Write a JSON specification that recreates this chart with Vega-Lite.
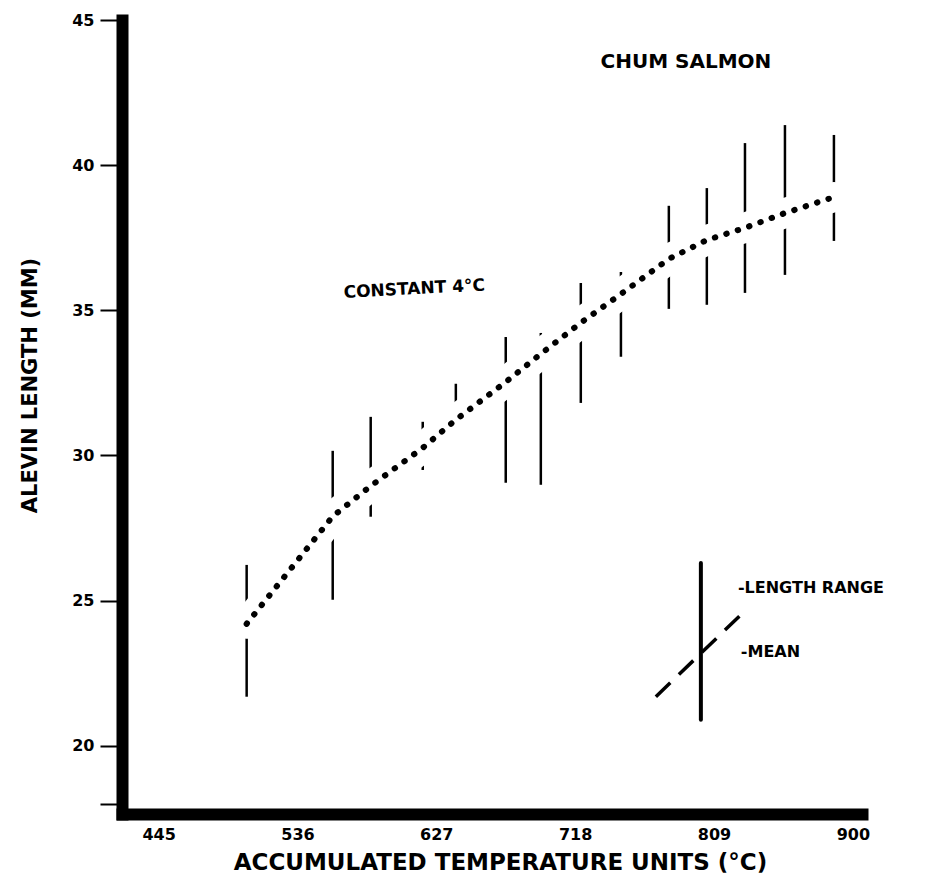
{
  "$schema": "https://vega.github.io/schema/vega-lite/v6.json",
  "width": 740,
  "height": 794,
  "autosize": {"type": "none"},
  "padding": {"left": 122, "top": 20, "right": 90, "bottom": 71},
  "background": "white",
  "config": {"view": {"stroke": null}, "font": "DejaVu Sans"},
  "datasets": {
    "obs": [
      {"atu": 502.7, "mean": 24.2, "lo": 21.69, "hi": 26.23},
      {"atu": 559.1, "mean": 27.9, "lo": 25.03, "hi": 30.16},
      {"atu": 584.0, "mean": 28.95, "lo": 27.89, "hi": 31.33},
      {"atu": 618.1, "mean": 30.26, "lo": 29.5, "hi": 31.16},
      {"atu": 639.8, "mean": 31.23, "lo": 31.0, "hi": 32.47},
      {"atu": 672.5, "mean": 32.53, "lo": 29.06, "hi": 34.08},
      {"atu": 695.5, "mean": 33.5, "lo": 28.99, "hi": 34.22},
      {"atu": 721.7, "mean": 34.57, "lo": 31.81, "hi": 35.94},
      {"atu": 748.0, "mean": 35.56, "lo": 33.4, "hi": 36.32},
      {"atu": 779.4, "mean": 36.77, "lo": 35.05, "hi": 38.6},
      {"atu": 804.3, "mean": 37.42, "lo": 35.19, "hi": 39.21},
      {"atu": 829.3, "mean": 37.84, "lo": 35.6, "hi": 40.76},
      {"atu": 855.5, "mean": 38.35, "lo": 36.22, "hi": 41.38},
      {"atu": 887.6, "mean": 38.9, "lo": 37.39, "hi": 41.04}
    ],
    "key_range": [{"atu": 800.4, "lo": 20.9, "hi": 26.3}],
    "key_mean": [{"atu": 770.9, "mean": 21.69}, {"atu": 829.9, "mean": 24.68}],
    "notes": [
      {"id": "species", "atu": 790.6, "len": 43.55, "label": "CHUM SALMON"},
      {"id": "curve", "atu": 566.3, "len": 35.6, "label": "CONSTANT 4°C"},
      {"id": "key", "atu": 824.7, "len": 25.44, "label": "-LENGTH RANGE"},
      {"id": "key", "atu": 826.6, "len": 23.24, "label": "-MEAN"}
    ]
  },
  "layer": [
    {
      "data": {"name": "obs"},
      "mark": {"type": "rule", "strokeWidth": 2.5, "color": "black"},
      "encoding": {
        "x": {
          "field": "atu", "type": "quantitative", "title": "ACCUMULATED TEMPERATURE UNITS (°C)",
          "scale": {"domain": [421, 906], "nice": false, "zero": false},
          "axis": {
            "values": [445, 536, 627, 718, 809, 900],
            "grid": false, "ticks": false,
            "domainColor": "black", "domainWidth": 12, "domainCap": "square",
            "labelFont": "DejaVu Sans", "labelFontWeight": "bold", "labelFontSize": 16, "labelColor": "black",
            "labelPadding": 12,
            "titleFont": "DejaVu Sans", "titleFontWeight": "bold", "titleFontSize": 23, "titleColor": "black",
            "titleX": 378, "titleY": 48, "titleBaseline": "middle", "titleAnchor": "middle"
          }
        },
        "y": {
          "field": "lo", "type": "quantitative", "title": "ALEVIN LENGTH (MM)",
          "scale": {"domain": [17.65, 45], "nice": false, "zero": false},
          "axis": {
            "values": [18, 20, 25, 30, 35, 40, 45],
            "labelExpr": "datum.value == 18 ? '' : datum.label",
            "grid": false, "tickColor": "black", "tickWidth": 2, "tickSize": 22,
            "domainColor": "black", "domainWidth": 12, "domainCap": "square",
            "labelFont": "DejaVu Sans", "labelFontWeight": "bold", "labelFontSize": 16, "labelColor": "black",
            "labelPadding": 6,
            "titleFont": "DejaVu Sans", "titleFontWeight": "bold", "titleFontSize": 21, "titleColor": "black",
            "titleX": -92, "titleY": 365, "titleAngle": -90, "titleBaseline": "middle", "titleAlign": "center", "titleAnchor": "middle"
          }
        },
        "y2": {"field": "hi"}
      }
    },
    {
      "data": {"name": "obs"},
      "mark": {"type": "line", "color": "white", "strokeWidth": 30, "strokeCap": "round"},
      "encoding": {
        "x": {"field": "atu", "type": "quantitative", "title": "ACCUMULATED TEMPERATURE UNITS (°C)"},
        "y": {"field": "mean", "type": "quantitative", "title": "ALEVIN LENGTH (MM)"}
      }
    },
    {
      "data": {"name": "obs"},
      "mark": {"type": "line", "color": "black", "strokeWidth": 6, "strokeCap": "round", "strokeDash": [0.5, 11.5]},
      "encoding": {
        "x": {"field": "atu", "type": "quantitative", "title": "ACCUMULATED TEMPERATURE UNITS (°C)"},
        "y": {"field": "mean", "type": "quantitative", "title": "ALEVIN LENGTH (MM)"}
      }
    },
    {
      "data": {"name": "key_range"},
      "mark": {"type": "rule", "color": "black", "strokeWidth": 4, "strokeCap": "round"},
      "encoding": {
        "x": {"field": "atu", "type": "quantitative", "title": "ACCUMULATED TEMPERATURE UNITS (°C)"},
        "y": {"field": "lo", "type": "quantitative", "title": "ALEVIN LENGTH (MM)"},
        "y2": {"field": "hi"}
      }
    },
    {
      "data": {"name": "key_mean"},
      "mark": {"type": "line", "color": "black", "strokeWidth": 3.5, "strokeDash": [20, 12]},
      "encoding": {
        "x": {"field": "atu", "type": "quantitative", "title": "ACCUMULATED TEMPERATURE UNITS (°C)"},
        "y": {"field": "mean", "type": "quantitative", "title": "ALEVIN LENGTH (MM)"}
      }
    },
    {
      "data": {"name": "notes"},
      "transform": [{"filter": "datum.id == 'species'"}],
      "mark": {"type": "text", "font": "DejaVu Sans", "fontWeight": "bold", "fontSize": 20, "align": "center", "baseline": "middle", "color": "black"},
      "encoding": {
        "x": {"field": "atu", "type": "quantitative", "title": "ACCUMULATED TEMPERATURE UNITS (°C)"},
        "y": {"field": "len", "type": "quantitative", "title": "ALEVIN LENGTH (MM)"},
        "text": {"field": "label"}
      }
    },
    {
      "data": {"name": "notes"},
      "transform": [{"filter": "datum.id == 'curve'"}],
      "mark": {"type": "text", "font": "DejaVu Sans", "fontWeight": "bold", "fontSize": 17, "align": "left", "baseline": "middle", "angle": 357, "color": "black"},
      "encoding": {
        "x": {"field": "atu", "type": "quantitative", "title": "ACCUMULATED TEMPERATURE UNITS (°C)"},
        "y": {"field": "len", "type": "quantitative", "title": "ALEVIN LENGTH (MM)"},
        "text": {"field": "label"}
      }
    },
    {
      "data": {"name": "notes"},
      "transform": [{"filter": "datum.id == 'key'"}],
      "mark": {"type": "text", "font": "DejaVu Sans", "fontWeight": "bold", "fontSize": 16, "align": "left", "baseline": "middle", "color": "black"},
      "encoding": {
        "x": {"field": "atu", "type": "quantitative", "title": "ACCUMULATED TEMPERATURE UNITS (°C)"},
        "y": {"field": "len", "type": "quantitative", "title": "ALEVIN LENGTH (MM)"},
        "text": {"field": "label"}
      }
    }
  ]
}
